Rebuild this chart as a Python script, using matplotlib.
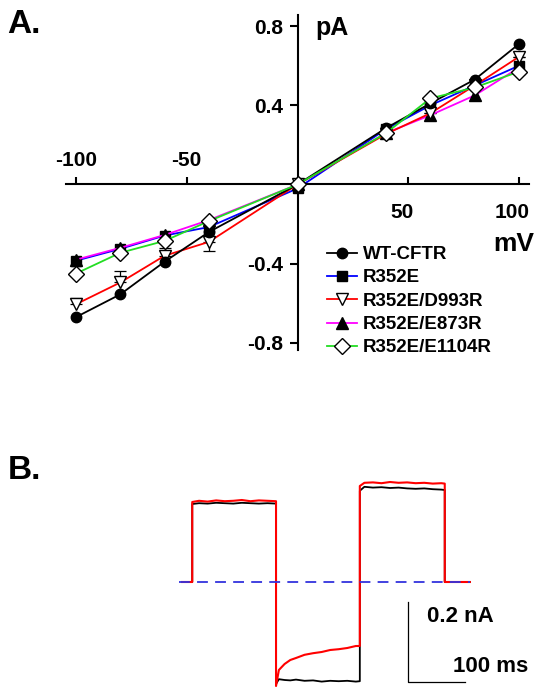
import numpy as np
import matplotlib
matplotlib.use("Agg")
import matplotlib.pyplot as plt

plt.rcParams['font.family'] = ['Liberation Sans', 'DejaVu Sans']
plt.rcParams['font.weight'] = 'bold'

# ---- panel A: I-V data ----
voltages = [-100, -80, -60, -40, 0, 40, 60, 80, 100]
wt_cftr = [-0.67, -0.555, -0.39, -0.24, 0.0, 0.285, 0.41, 0.53, 0.71]
r352e = [-0.385, -0.325, -0.258, -0.215, -0.02, 0.28, 0.40, 0.50, 0.60]
r352e_d993r = [-0.605, -0.495, -0.36, -0.29, 0.0, 0.255, 0.36, 0.50, 0.645]
r352e_e873r = [-0.38, -0.32, -0.255, -0.18, 0.0, 0.26, 0.35, 0.45, 0.59]
r352e_e1104r = [-0.45, -0.345, -0.285, -0.185, 0.0, 0.26, 0.435, 0.49, 0.57]
d993r_err_up = [0.03, 0.06, 0.04, 0.0, 0.0, 0.0, 0.0, 0.0, 0.0]
d993r_err_dn = [0.0, 0.0, 0.0, 0.045, 0.0, 0.0, 0.0, 0.0, 0.0]

series_names = ["WT-CFTR", "R352E", "R352E/D993R", "R352E/E873R", "R352E/E1104R"]

# ---- panel B: current traces (ms, nA) ----
t_seg1 = [18, 30, 45, 60, 75, 90, 105, 120, 135, 150, 165]
black_seg1 = [0.195, 0.197, 0.196, 0.198, 0.197, 0.196, 0.198, 0.197, 0.196, 0.197, 0.196]
red_seg1 = [0.200, 0.203, 0.201, 0.204, 0.202, 0.203, 0.205, 0.202, 0.204, 0.203, 0.202]
t_seg2 = [165, 170, 180, 190, 200, 215, 230, 245, 260, 275, 290, 305, 312]
black_seg2 = [-0.255, -0.243, -0.245, -0.246, -0.244, -0.247, -0.246, -0.249, -0.247, -0.248, -0.247, -0.249, -0.248]
red_seg2 = [-0.26, -0.22, -0.205, -0.195, -0.19, -0.182, -0.178, -0.175, -0.17, -0.168, -0.165, -0.16, -0.16]
t_seg3 = [312, 320, 335, 350, 365, 380, 395, 410, 425, 440, 455, 461]
black_seg3 = [0.228, 0.238, 0.236, 0.237, 0.235, 0.236, 0.234, 0.233, 0.234, 0.232, 0.231, 0.230]
red_seg3 = [0.240, 0.248, 0.249, 0.247, 0.250, 0.248, 0.249, 0.247, 0.248, 0.246, 0.247, 0.246]
t_start, t_end = 0, 505
scale_nA = 0.2
scale_ms = 100

W, H = 542, 697
fig = plt.figure(figsize=(W / 100, H / 100), dpi=100)

def px_axes(x0, y0, x1, y1):
    return fig.add_axes([x0 / W, 1 - y1 / H, (x1 - x0) / W, (y1 - y0) / H])

# ================= Panel A =================
ax = px_axes(66, 15, 529, 350)
ax.set_xlim(-104.5, 104.5)
ax.set_ylim(-0.836, 0.856)

# (values, line colour, marker, face colour, marker size, zorder)
styles = [
    (wt_cftr, 'black', 'o', 'black', 7.5, 3.2),
    (r352e, 'blue', 's', 'black', 7, 2.5),
    (r352e_d993r, 'red', 'v', 'white', 9, 3.1),
    (r352e_e873r, 'magenta', '^', 'black', 8, 3.0),
    (r352e_e1104r, '#22dd22', 'D', 'white', 8, 3.3),
]
ax.errorbar(voltages, r352e_d993r, yerr=[d993r_err_dn, d993r_err_up], fmt='none',
            ecolor='black', elinewidth=0.9, capsize=4, capthick=0.9, zorder=2)
for (vals, col, mk, fc, ms, z), name in zip(styles, series_names):
    ax.plot(voltages, vals, color=col, lw=1.3, marker=mk, markerfacecolor=fc,
            markeredgecolor='black', markeredgewidth=1.0, markersize=ms, label=name, zorder=z)

for s in ['top', 'right']:
    ax.spines[s].set_visible(False)
ax.spines['left'].set_position(('data', 0))
ax.spines['bottom'].set_position(('data', 0))
ax.spines['left'].set_linewidth(1.5)
ax.spines['bottom'].set_linewidth(1.5)
ax.set_yticks([-0.8, -0.4, 0.4, 0.8])
ax.set_yticklabels(['-0.8', '-0.4', '0.4', '0.8'], fontsize=15, fontweight='bold')
ax.tick_params(axis='y', direction='out', length=5.5, width=1.5, pad=5)
ax.set_xticks([-100, -50, 50, 100])
ax.set_xticklabels([])
ax.tick_params(axis='x', direction='in', length=5, width=1.5)
for xv in [-100, -50]:
    ax.text(xv, 0.075, str(xv), ha='center', va='bottom', fontsize=15, fontweight='bold')
for xv in [50, 100]:
    ax.text(xv - 3, -0.095, str(xv), ha='center', va='top', fontsize=15, fontweight='bold')
ax.text(8, 0.79, 'pA', ha='left', va='center', fontsize=18, fontweight='bold')
ax.text(107, -0.30, 'mV', ha='right', va='center', fontsize=19, fontweight='bold')

leg = ax.legend(loc='upper left', bbox_to_anchor=(327 / W, 1 - 246 / H),
                bbox_transform=fig.transFigure, frameon=False,
                fontsize=13.5, handlelength=1.6, handletextpad=0.32, labelspacing=0.33,
                borderpad=0, borderaxespad=0)
for txt in leg.get_texts():
    txt.set_fontweight('bold')

fig.text(7 / W, 1 - 33 / H, 'A.', fontsize=24, fontweight='bold')

# ================= Panel B =================
bx = px_axes(150, 460, 542, 697)
bx.set_xlim(-56.1, 631.6)
bx.set_ylim(-0.2875, 0.305)
bx.axis('off')

def trace(s1, s2, s3):
    t = [t_start, t_seg1[0]] + t_seg1 + t_seg2 + t_seg3 + [t_seg3[-1], t_end]
    y = [0, 0] + s1 + s2 + s3 + [0, 0]
    return t, y

tb, yb = trace(black_seg1, black_seg2, black_seg3)
tr, yr = trace(red_seg1, red_seg2, red_seg3)
bx.plot(tb, yb, color='black', lw=1.3)
bx.plot(tr, yr, color='red', lw=1.5)
bx.plot([t_start - 5, t_end], [0, 0], color='#3333dd', lw=1.3, dashes=(6, 4))

sb_x, sb_y = 396.5, -0.25
bx.plot([sb_x, sb_x, sb_x + scale_ms], [sb_y + scale_nA, sb_y, sb_y], color='black', lw=0.9)
bx.text(429, -0.0875, '0.2 nA', ha='left', va='center', fontsize=16, fontweight='bold')
bx.text(476, -0.2125, '100 ms', ha='left', va='center', fontsize=16, fontweight='bold')

fig.text(8 / W, 1 - 479 / H, 'B.', fontsize=24, fontweight='bold')

fig.savefig('out.png', dpi=100)
